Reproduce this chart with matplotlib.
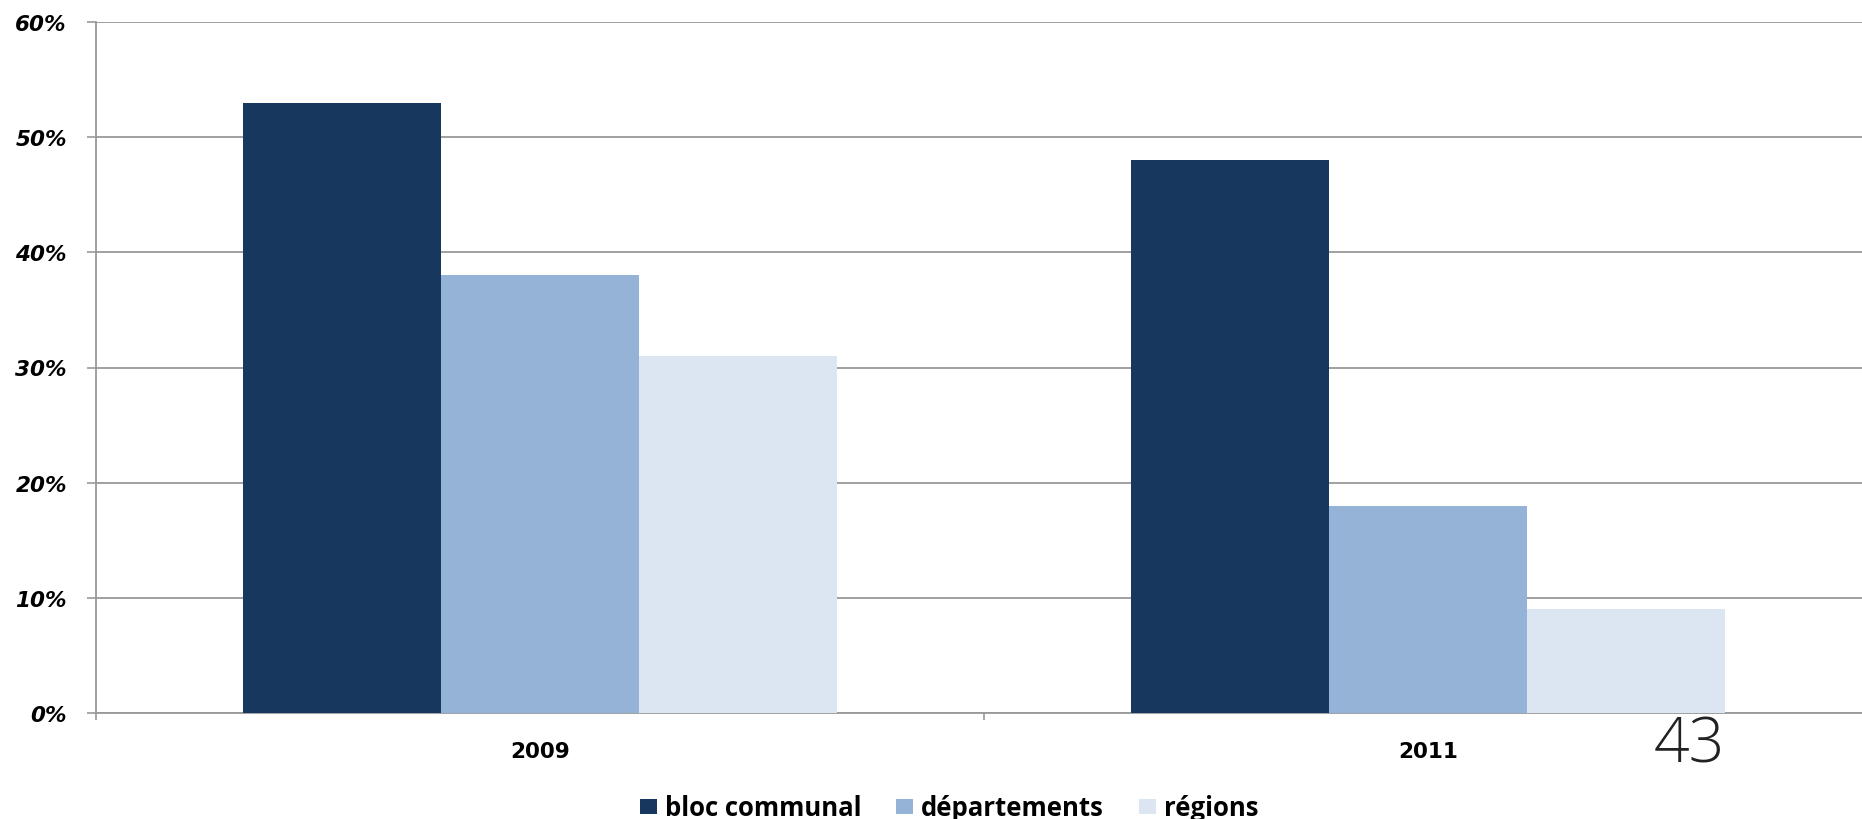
import matplotlib
matplotlib.use("Agg")
import matplotlib.pyplot as plt
import numpy as np
from matplotlib.patches import Patch

categories = ["2009", "2011"]
series_names = ["bloc communal", "départements", "régions"]
bloc_communal = [0.53, 0.48]
departements = [0.38, 0.18]
regions = [0.31, 0.09]
yticks = [0.0, 0.1, 0.2, 0.3, 0.4, 0.5, 0.6]
ytick_labels = ["0%", "10%", "20%", "30%", "40%", "50%", "60%"]
page_number = "43"

colors = ["#17375E", "#95B3D7", "#DCE6F2"]

W, H = 1862, 820
fig = plt.figure(figsize=(W / 100, H / 100), dpi=100)
ax = fig.add_axes([96 / W, 1 - 714 / H, 1776 / W, (714 - 23) / H])

x = np.arange(len(categories))
bw = 0.223
for i, (vals, c) in enumerate(zip([bloc_communal, departements, regions], colors)):
    ax.bar(x + (i - 1) * bw, vals, width=bw, color=c, zorder=3, linewidth=0)

ax.set_xlim(-0.5, len(categories) - 0.5)
ax.set_ylim(0, 0.6)
ax.set_yticks(yticks)
ax.set_yticklabels(ytick_labels, fontfamily="DejaVu Sans", fontweight="bold",
                   fontstyle="italic", fontsize=15.5)
ax.yaxis.grid(True, color="#999999", linewidth=1.3, zorder=0)
ax.set_axisbelow(True)

ax.set_xticks(x)
ax.set_xticklabels(categories, fontfamily="DejaVu Sans", fontweight="bold", fontsize=15.5)
ax.set_xticks(np.arange(len(categories) + 1) - 0.5, minor=True)
ax.tick_params(axis="x", which="major", length=0, pad=20.5)
ax.tick_params(axis="x", which="minor", length=5, width=1.2, color="#999999", direction="out")
ax.tick_params(axis="y", which="major", length=6.5, width=1.2, color="#999999",
               direction="out", pad=14.5)

for s in ["top", "right"]:
    ax.spines[s].set_visible(False)
ax.spines["left"].set_color("#999999")
ax.spines["left"].set_linewidth(1.3)
ax.spines["bottom"].set_color("#999999")
ax.spines["bottom"].set_linewidth(1.3)

handles = [Patch(facecolor=c, edgecolor="none") for c in colors]
fig.legend(handles, series_names, loc="center", bbox_to_anchor=(949 / W, 1 - 809 / H),
           ncol=3, frameon=False, prop={"family": "Open Sans", "weight": "bold", "size": 18.5},
           handlelength=0.66, handleheight=0.55, handletextpad=0.31, columnspacing=1.36,
           borderpad=0, borderaxespad=0)

fig.text(1689 / W, 1 - 746 / H, page_number, ha="center", va="center",
         fontfamily="Open Sans", fontweight="light", fontsize=45, color="#222222")

fig.savefig("out.png", dpi=100)
